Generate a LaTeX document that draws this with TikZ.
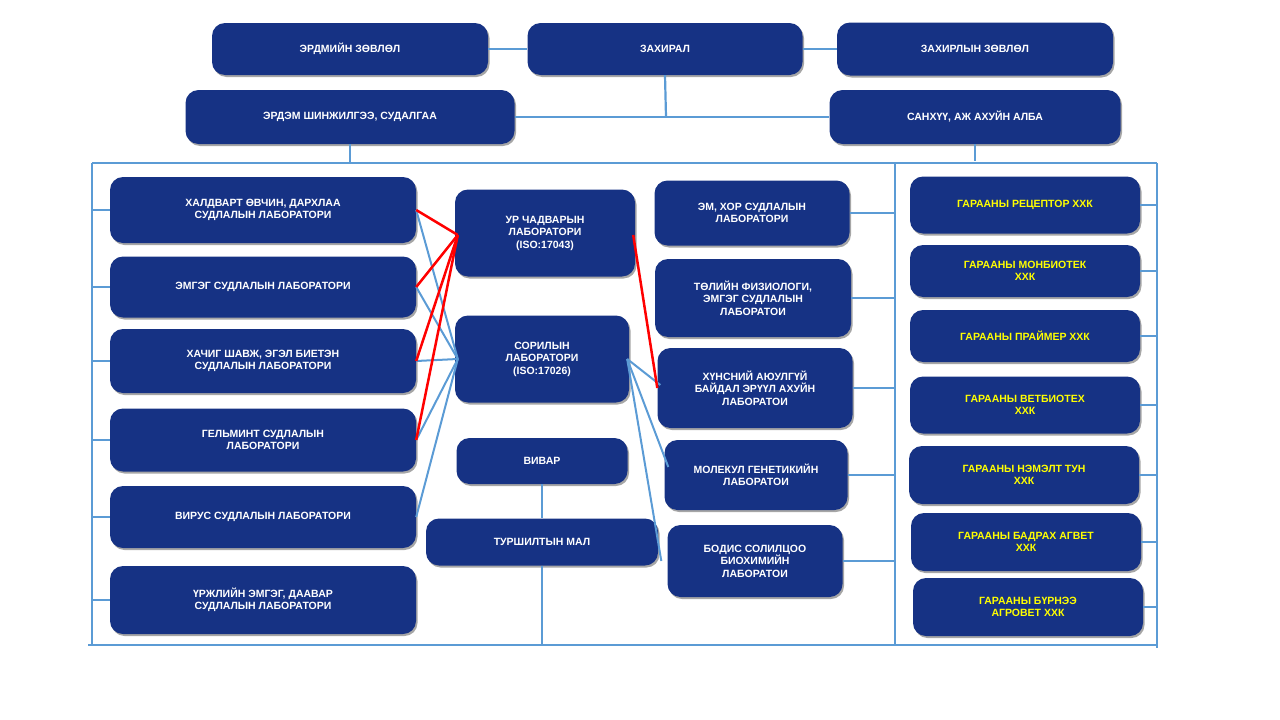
\documentclass[tikz,border=0pt]{standalone}
\usepackage{fontspec}
\setmainfont{Liberation Sans}
\usetikzlibrary{shadows,calc}
\definecolor{bx}{RGB}{22,50,132}
\definecolor{ln}{RGB}{91,155,213}
\definecolor{yl}{RGB}{255,255,0}
\tikzset{
 box/.style={fill=bx,rounded corners=13pt,text=white,font=\bfseries\fontsize{10.5}{12.5}\selectfont,align=center,inner sep=2pt,drop shadow={shadow xshift=1.5pt,shadow yshift=-2pt,opacity=0.35,fill=black}},
 cbox/.style={box,text=yl},
 bl/.style={draw=ln,line width=2.2pt},
 rd/.style={draw=red,line width=2.5pt},
}
\begin{document}
\begin{tikzpicture}[x=1pt,y=-1pt]
\useasboundingbox (0,0) rectangle (1280,720);
% frame lines
\coordinate (tl) at (92,163); \coordinate (tr) at (1157,163);
\coordinate (bl0) at (88,645); \coordinate (br) at (1157,645);
\draw[bl] (tl) -- (tr);
\draw[bl] (92,163) -- (92,645);
\draw[bl] (bl0) -- (br);
\draw[bl] (895,163) -- (895,645);
\draw[bl] (1157,163) -- (1157,648);
% top
\node[box,minimum width=276pt,minimum height=52pt] (erd) at (350,49) {ЭРДМИЙН ЗӨВЛӨЛ};
\node[box,minimum width=275pt,minimum height=52pt] (zah) at (665,49) {ЗАХИРАЛ};
\node[box,minimum width=276pt,minimum height=53pt] (zz) at (975,49) {ЗАХИРЛЫН ЗӨВЛӨЛ};
\node[box,minimum width=329pt,minimum height=54pt] (esh) at (350,117) {ЭРДЭМ ШИНЖИЛГЭЭ, СУДАЛГАА};
\node[box,minimum width=291pt,minimum height=54pt] (san) at (975,117) {САНХҮҮ, АЖ АХУЙН АЛБА};
\draw[bl] (erd.east) -- (zah.west);
\draw[bl] (zah.east) -- (zz.west);
\draw[bl] (zah.south) -- (666,117);
\draw[bl] (esh.east) -- (san.west);
\draw[bl] (esh.south) -- (350,163);
\draw[bl] (san.south) -- (975,161);
% left column
\node[box,minimum width=306pt,minimum height=66pt] (l1) at (263,210) {ХАЛДВАРТ ӨВЧИН, ДАРХЛАА\\СУДЛАЛЫН ЛАБОРАТОРИ};
\node[box,minimum width=306pt,minimum height=61pt] (l2) at (263,287) {ЭМГЭГ СУДЛАЛЫН ЛАБОРАТОРИ};
\node[box,minimum width=306pt,minimum height=64pt] (l3) at (263,361) {ХАЧИГ ШАВЖ,  ЭГЭЛ БИЕТЭН\\СУДЛАЛЫН ЛАБОРАТОРИ};
\node[box,minimum width=306pt,minimum height=63pt] (l4) at (263,440) {ГЕЛЬМИНТ СУДЛАЛЫН\\ЛАБОРАТОРИ};
\node[box,minimum width=306pt,minimum height=62pt] (l5) at (263,517) {ВИРУС СУДЛАЛЫН ЛАБОРАТОРИ};
\node[box,minimum width=306pt,minimum height=68pt] (l6) at (263,600) {ҮРЖЛИЙН ЭМГЭГ, ДААВАР\\СУДЛАЛЫН ЛАБОРАТОРИ};
\foreach \n in {l1,l2,l3,l4,l5,l6} \draw[bl] (\n.west) -- (\n.west -| tl);
% middle
\node[box,minimum width=180pt,minimum height=87pt] (ur) at (545,233) {УР ЧАДВАРЫН\\ЛАБОРАТОРИ\\(ISO:17043)};
\node[box,minimum width=174pt,minimum height=87pt] (sor) at (542,359) {СОРИЛЫН\\ЛАБОРАТОРИ\\(ISO:17026)};
\node[box,minimum width=171pt,minimum height=46pt] (viv) at (542,461) {ВИВАР};
\node[box,minimum width=232pt,minimum height=47pt] (tur) at (542,542) {ТУРШИЛТЫН МАЛ};
\coordinate (vb) at (542,645);
\draw[bl] (viv.south) -- (tur.north);
\draw[bl] (tur.south) -- (vb);
% right-middle
\node[box,minimum width=195pt,minimum height=65pt] (m1) at (752,213) {ЭМ, ХОР СУДЛАЛЫН\\ЛАБОРАТОРИ};
\node[box,minimum width=196pt,minimum height=78pt] (m2) at (753,298) {ТӨЛИЙН ФИЗИОЛОГИ,\\ЭМГЭГ СУДЛАЛЫН\\ЛАБОРАТОИ};
\node[box,minimum width=195pt,minimum height=80pt] (m3) at (755,388) {ХҮНСНИЙ АЮУЛГҮЙ\\БАЙДАЛ ЭРҮҮЛ АХУЙН\\ЛАБОРАТОИ};
\node[box,minimum width=183pt,minimum height=70pt] (m4) at (756,475) {МОЛЕКУЛ ГЕНЕТИКИЙН\\ЛАБОРАТОИ};
\node[box,minimum width=175pt,minimum height=72pt] (m5) at (755,561) {БОДИС СОЛИЛЦОО\\БИОХИМИЙН\\ЛАБОРАТОИ};
\coordinate (mx) at (895,0);
\foreach \n in {m1,m2,m3,m4,m5} \draw[bl] (\n.east) -- (\n.east -| mx);
% companies
\node[cbox,minimum width=230pt,minimum height=57pt] (c1) at (1025,205) {ГАРААНЫ  РЕЦЕПТОР ХХК};
\node[cbox,minimum width=230pt,minimum height=52pt] (c2) at (1025,271) {ГАРААНЫ  МОНБИОТЕК\\ХХК};
\node[cbox,minimum width=230pt,minimum height=52pt] (c3) at (1025,336) {ГАРААНЫ  ПРАЙМЕР ХХК};
\node[cbox,minimum width=230pt,minimum height=57pt] (c4) at (1025,405) {ГАРААНЫ  ВЕТБИОТЕХ\\ХХК};
\node[cbox,minimum width=230pt,minimum height=58pt] (c5) at (1024,475) {ГАРААНЫ  НЭМЭЛТ ТУН\\ХХК};
\node[cbox,minimum width=230pt,minimum height=58pt] (c6) at (1026,542) {ГАРААНЫ  БАДРАХ АГВЕТ\\ХХК};
\node[cbox,minimum width=230pt,minimum height=58pt] (c7) at (1028,607) {ГАРААНЫ  БҮРНЭЭ\\АГРОВЕТ ХХК};
\foreach \n in {c1,c2,c3,c4,c5,c6,c7} \draw[bl] (\n.east) -- (\n.east -| tr);
% cross links
\coordinate (uw) at ($(ur.west)+(3,2)$);
\coordinate (ue) at ($(ur.east)+(-2,2)$);
\coordinate (sw) at ($(sor.west)+(3,0)$);
\coordinate (se) at ($(sor.east)+(-2,0)$);
\foreach \n in {l1,l2,l3,l4,l5} \draw[bl,line width=2pt] (sw) -- (\n.east);
\draw[bl,line width=2pt] (se) -- ($(m3.west)+(3,-3)$);
\draw[bl,line width=2pt] (se) -- ($(m4.west)+(4,-8)$);
\draw[bl,line width=2pt] (se) -- ($(m5.west)+(-6,0)$);
\foreach \n in {l1,l2,l3,l4} \draw[rd] (uw) -- (\n.east);
\draw[rd] (ue) -- (m3.west);
\end{tikzpicture}
\end{document}
